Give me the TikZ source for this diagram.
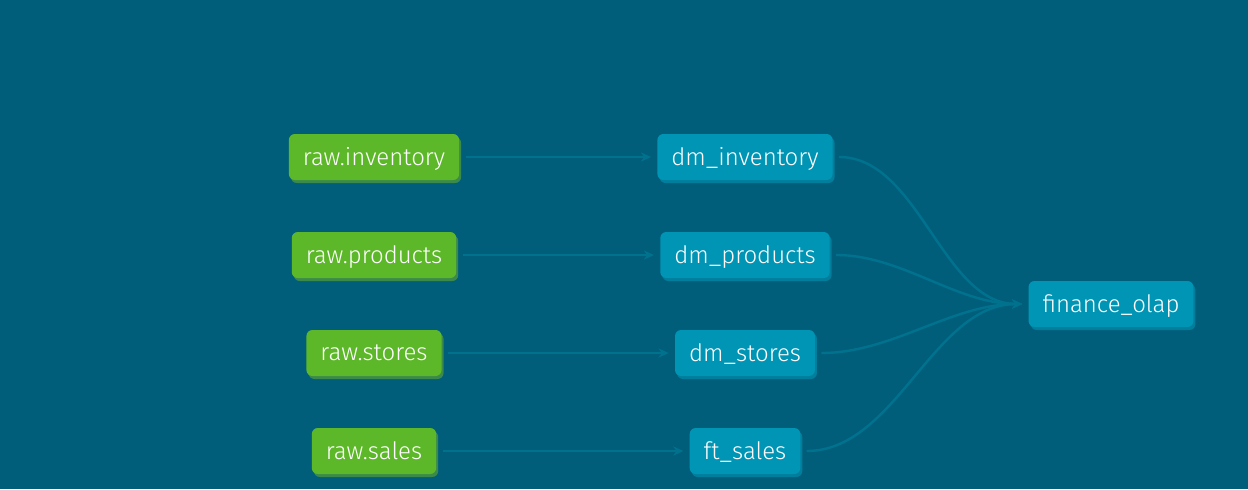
\documentclass[tikz,border=0pt]{standalone}
\usepackage{fontspec}
\setmainfont{Fira Sans Light}
\usetikzlibrary{arrows.meta, shadows}

\definecolor{bgteal}{HTML}{005E7B}
\definecolor{edgeteal}{HTML}{00728E}
\definecolor{rawgreen}{HTML}{5DB829}
\definecolor{rawshade}{HTML}{3B8A4C}
\definecolor{dmblue}{HTML}{0095B4}
\definecolor{dmshade}{HTML}{007E9C}

\begin{document}
\begin{tikzpicture}[
  x=0.5pt, y=-0.5pt,
  every node/.style={font=\fontsize{12}{14}\selectfont, text=white},
  box/.style={rounded corners=3pt, minimum height=23pt, inner xsep=7pt, inner ysep=0pt, text depth=0.5pt},
  src/.style={box, fill=rawgreen, drop shadow={shadow xshift=1pt, shadow yshift=-1.5pt, fill=rawshade, opacity=1}},
  mart/.style={box, fill=dmblue, drop shadow={shadow xshift=1pt, shadow yshift=-1.5pt, fill=dmshade, opacity=1}},
  link/.style={draw=edgeteal, line width=1.2pt, -{Stealth[length=5pt, width=4.5pt]}, shorten >=3pt, shorten <=3pt}
]

\useasboundingbox[fill=bgteal] (0,0) rectangle (1248,489);

% Sources
\node[src] (rawinv)   at (374,157) {raw.inventory};
\node[src] (rawprod)  at (374,255) {raw.products};
\node[src] (rawstore) at (374,353) {raw.stores};
\node[src] (rawsales) at (374,451) {raw.sales};

% Marts
\node[mart] (dminv)   at (745,157) {dm\_inventory};
\node[mart] (dmprod)  at (745,255) {dm\_products};
\node[mart] (dmstore) at (745,353) {dm\_stores};
\node[mart] (ftsales) at (745,451) {ft\_sales};

\node[mart] (olap) at (1111,304) {finance\_olap};

% Loading edges
\draw[link] (rawinv)   -- (dminv);
\draw[link] (rawprod)  -- (dmprod);
\draw[link] (rawstore) -- (dmstore);
\draw[link] (rawsales) -- (ftsales);

% Into the olap
\foreach \m in {dminv, dmprod, dmstore, ftsales}
  \draw[link] (\m.east) to[out=0, in=180, looseness=0.9] (olap.west);

\end{tikzpicture}
\end{document}
